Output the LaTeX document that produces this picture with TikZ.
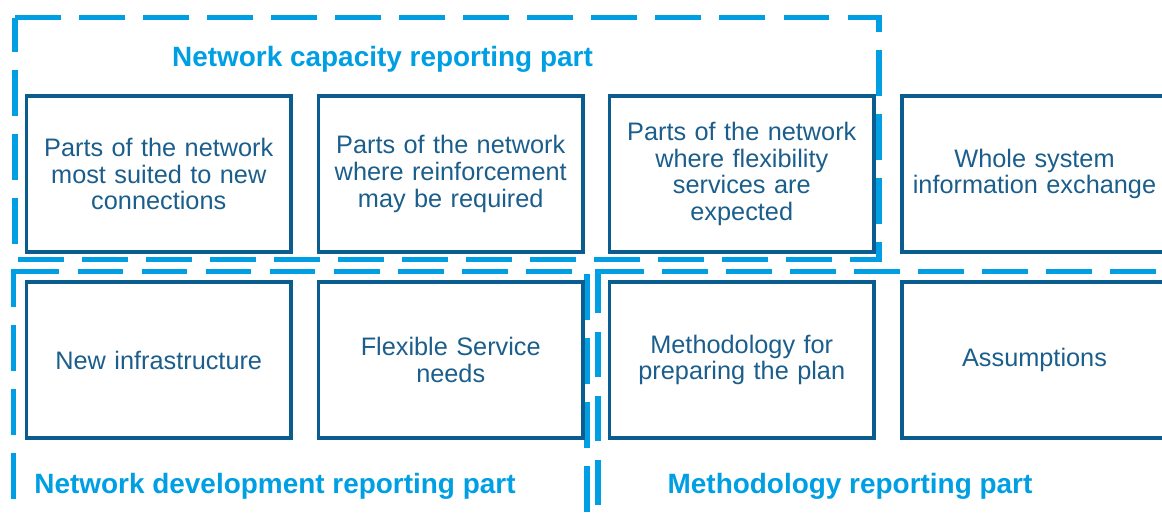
\documentclass[tikz,border=0pt]{standalone}
\usepackage{fontspec}
\setmainfont{Liberation Sans}
\definecolor{groupblue}{HTML}{009FE3}
\definecolor{boxblue}{HTML}{0B5C8F}
\definecolor{textblue}{HTML}{1B5E8C}
\tikzset{
  box/.style={draw=boxblue, line width=2pt, text=textblue,
    font=\fontsize{14.4}{15.3}\selectfont, align=center,
    minimum width=5.3cm, minimum height=3.13cm, inner sep=0pt, text width=5.2cm},
  group/.style={draw=groupblue, line width=2.9pt, dash pattern=on 26.08pt off 10.37pt},
  grouptitle/.style={text=groupblue, font=\fontsize{15.9}{18}\selectfont\bfseries, inner sep=0pt}
}
\begin{document}
\begin{tikzpicture}[x=0.02cm,y=-0.02cm]
\useasboundingbox (0,0) rectangle (1162,514);
\clip (0,0) rectangle (1162,514);
% group frames
\draw[group] (15,17.5) -- (879,17.5) -- (879,259.5) -- (15,259.5) -- cycle;
\draw[group] (13.5,271.5) -- (587,271.5) -- (587,600);
\draw[group, dash phase=4.54pt] (13.5,269) -- (13.5,600);
\draw[group] (598,271.5) -- (1300,271.5);
\draw[group, dash phase=0.85pt] (598,269) -- (598,600);
% titles
\node[grouptitle] (tcap) at (382.5,59) {Network capacity reporting part};
\node[grouptitle] (tdev) at (275,486.5) {Network development reporting part};
\node[grouptitle] (tmeth) at (850,486.5) {Methodology reporting part};
% boxes row 1
\node[box] (b11) at (158.75,174) {Parts of the network\\most suited to new\\connections};
\node[box] (b12) at (450.75,174) {Parts of the network\\where reinforcement\\may be required};
\node[box] (b13) at (741.75,174) {Parts of the network\\where flexibility\\services are\\expected};
\node[box] (b14) at (1034.5,174) {Whole system\\information exchange};
% boxes row 2
\node[box] (b21) at (158.75,360) {New infrastructure};
\node[box] (b22) at (450.75,360) {Flexible Service\\needs};
\node[box] (b23) at (741.75,360) {Methodology for\\preparing the plan};
\node[box] (b24) at (1034.5,360) {Assumptions};
\end{tikzpicture}
\end{document}
